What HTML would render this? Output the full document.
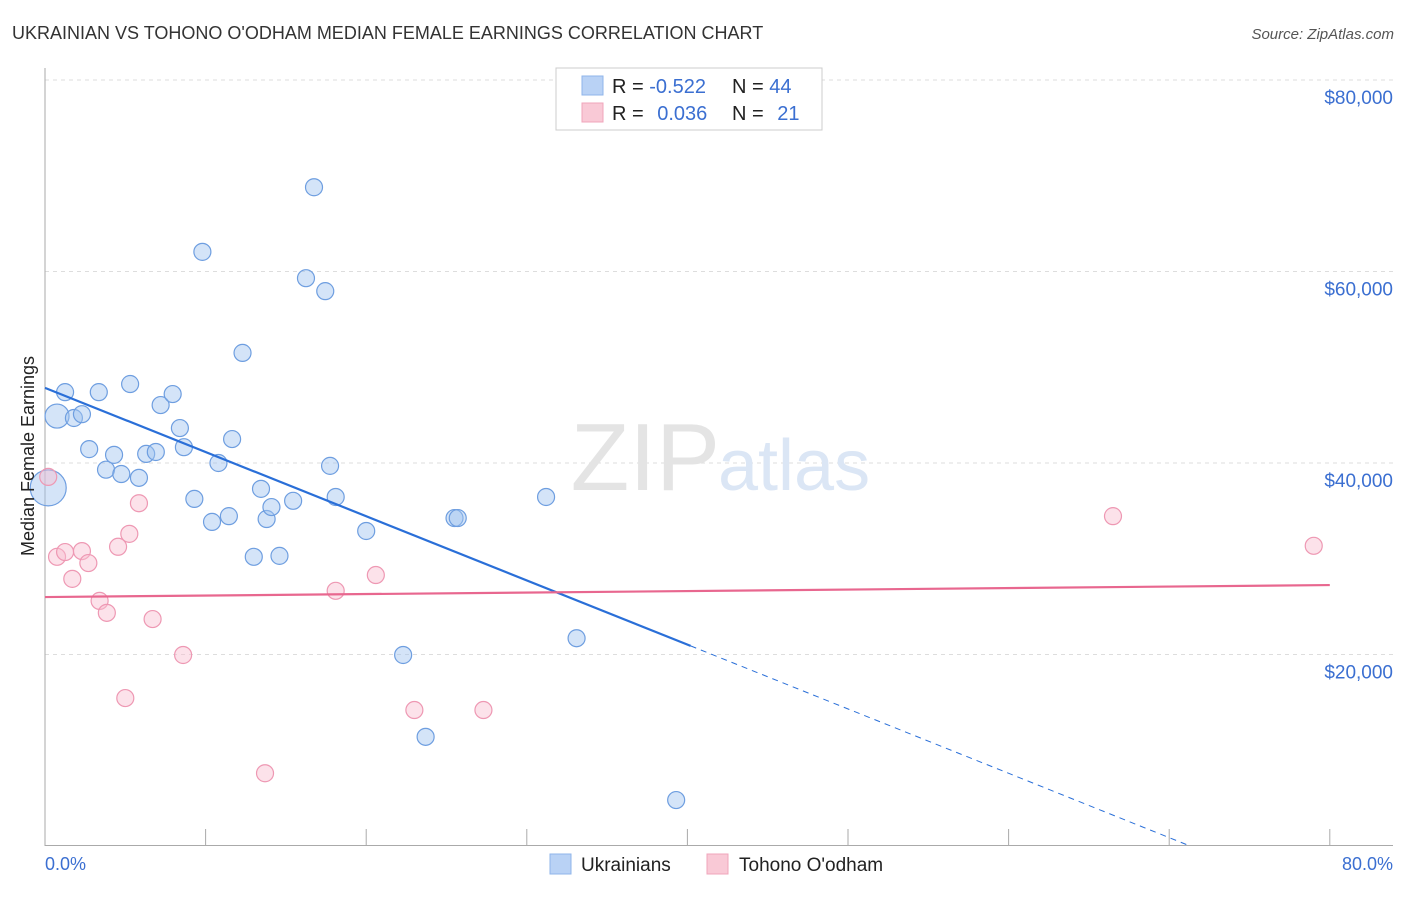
<!DOCTYPE html>
<html><head><meta charset="utf-8"><style>
body{margin:0;background:#fff;font-family:"Liberation Sans",sans-serif}
svg text{font-family:"Liberation Sans",sans-serif}
</style></head><body>
<svg id="chart" width="1406" height="892" xmlns="http://www.w3.org/2000/svg">
<text x="12" y="39" font-size="18" fill="#333">UKRAINIAN VS TOHONO O'ODHAM MEDIAN FEMALE EARNINGS CORRELATION CHART</text>
<text x="1394" y="39" font-size="15" fill="#555" font-style="italic" text-anchor="end">Source: ZipAtlas.com</text>
<g id="grid"></g>
<text x="720" y="490" font-size="96" fill="#e4e4e4" text-anchor="end" font-family="Liberation Serif">ZIP</text>
<text x="718" y="490" font-size="72" fill="#dbe6f5">atlas</text>
<g id="axes"></g>
<g id="pts"></g>
<g id="trends"></g>
<text transform="translate(34,456) rotate(-90)" font-size="18" fill="#222" text-anchor="middle">Median Female Earnings</text>
<text x="45" y="870" font-size="18" fill="#3b6fd1">0.0%</text>
<text x="1393" y="870" font-size="18" fill="#3b6fd1" text-anchor="end">80.0%</text>
<g>
<rect x="556" y="68" width="266" height="62" fill="#fff" stroke="#ccc"/>
<rect x="582" y="76" width="21" height="19" fill="#b9d2f5" stroke="#8fb4ea"/>
<rect x="582" y="103" width="21" height="19" fill="#f9c9d6" stroke="#f0a5bb"/>
<text x="612" y="93" font-size="20" fill="#222">R = <tspan fill="#3b6fd1">-0.522</tspan></text>
<text x="732" y="93" font-size="20" fill="#222">N = <tspan fill="#3b6fd1">44</tspan></text>
<text x="612" y="120" font-size="20" fill="#222">R = <tspan fill="#3b6fd1" dx="8">0.036</tspan></text>
<text x="732" y="120" font-size="20" fill="#222">N = <tspan fill="#3b6fd1" dx="8">21</tspan></text>
</g>
<g>
<rect x="550" y="854" width="21" height="20" fill="#b9d2f5" stroke="#8fb4ea"/>
<text x="581" y="871" font-size="19" fill="#222">Ukrainians</text>
<rect x="707" y="854" width="21" height="20" fill="#f9c9d6" stroke="#f0a5bb"/>
<text x="739" y="871" font-size="19" fill="#222">Tohono O'odham</text>
</g>
</svg>
<script>
const yTicks=[20000,40000,60000,80000];
const yTickLabels=["$20,000","$40,000","$60,000","$80,000"];
const xTicks=[0,10,20,30,40,50,60,70,80];
const blueX=[1.25,0.75,1.8,2.3,3.35,5.3,2.75,3.8,4.3,4.75,5.85,6.3,6.9,7.2,7.95,8.4,8.65,9.3,9.8,10.4,10.8,11.45,11.65,12.3,13.0,13.45,13.8,14.1,14.6,15.45,16.25,16.75,17.45,17.75,18.1,20.0,22.3,23.7,25.5,25.7,31.2,33.1,39.3,0.2];
const blueY=[47400,44900,44700,45100,47400,48250,41450,39300,40850,38850,38450,40950,41150,46050,47200,43650,41650,36250,62050,33850,40000,34450,42500,51500,30200,37300,34150,35400,30300,36050,59300,68800,57950,39700,36450,32900,19950,11400,34250,34250,36450,21700,4800,37400];
const blueR=[8.5,12,8.5,8.5,8.5,8.5,8.5,8.5,8.5,8.5,8.5,8.5,8.5,8.5,8.5,8.5,8.5,8.5,8.5,8.5,8.5,8.5,8.5,8.5,8.5,8.5,8.5,8.5,8.5,8.5,8.5,8.5,8.5,8.5,8.5,8.5,8.5,8.5,8.5,8.5,8.5,8.5,8.5,18];
const pinkX=[0.2,0.75,1.25,1.7,2.3,2.7,3.4,3.85,4.55,5.0,5.25,5.85,6.7,8.6,13.7,18.1,20.6,23.0,27.3,66.5,79.0];
const pinkY=[38550,30200,30700,27900,30800,29550,25600,24350,31250,15450,32600,35800,23700,19950,7600,26650,28300,14200,14200,34450,31350];
const blueTrend=[[0,47850],[40.2,20900]];
const blueTrendExt=[[40.2,20900],[71.3,0]];
const pinkTrend=[[0,26000],[80,27250]];
const NS="http://www.w3.org/2000/svg";
const sx=v=>45+v*16.06, sy=v=>846-v*191.5/20000;
function mk(tag,attrs,parent){const e=document.createElementNS(NS,tag);for(const k in attrs)e.setAttribute(k,attrs[k]);document.getElementById(parent).appendChild(e);return e;}
yTicks.forEach((t,i)=>{
 const l=mk('line',{x1:45,x2:1393,y1:sy(t),y2:sy(t),stroke:'#ddd','stroke-dasharray':'4,4'},'grid');
 
 
 const tx=mk('text',{x:1393,y:sy(t)+24,'font-size':19,fill:'#3b6fd1','text-anchor':'end'},'grid');
 tx.textContent=yTickLabels[i];
 
 
});
const ya=mk('line',{x1:45,x2:45,y1:68,y2:846,stroke:'#aaa'},'axes');


const xa=mk('line',{x1:45,x2:1393,y1:845.5,y2:845.5,stroke:'#aaa'},'axes');


xTicks.forEach(t=>{
 const l=mk('line',{x1:sx(t),x2:sx(t),y1:829,y2:846,stroke:'#aaa'},'axes');
 
 
});
blueX.forEach((x,i)=>{
 const c=mk('circle',{cx:sx(x),cy:sy(blueY[i]),r:blueR[i],fill:'rgba(160,195,240,0.45)',stroke:'#6e9ee0','stroke-width':1.2},'pts');
 
 
});
pinkX.forEach((x,i)=>{
 const c=mk('circle',{cx:sx(x),cy:sy(pinkY[i]),r:8.5,fill:'rgba(248,190,208,0.45)',stroke:'#ee98b3','stroke-width':1.2},'pts');
 
 
});
const bt=mk('line',{x1:sx(blueTrend[0][0]),y1:sy(blueTrend[0][1]),x2:sx(blueTrend[1][0]),y2:sy(blueTrend[1][1]),stroke:'#2a6fd8','stroke-width':2.2},'trends');


const be=mk('line',{x1:sx(blueTrendExt[0][0]),y1:sy(blueTrendExt[0][1]),x2:sx(blueTrendExt[1][0]),y2:sy(blueTrendExt[1][1]),stroke:'#2a6fd8','stroke-width':1,'stroke-dasharray':'6,5'},'trends');


const pt=mk('line',{x1:sx(pinkTrend[0][0]),y1:sy(pinkTrend[0][1]),x2:sx(pinkTrend[1][0]),y2:sy(pinkTrend[1][1]),stroke:'#e8678f','stroke-width':2.2},'trends');


</script>
</body></html>
